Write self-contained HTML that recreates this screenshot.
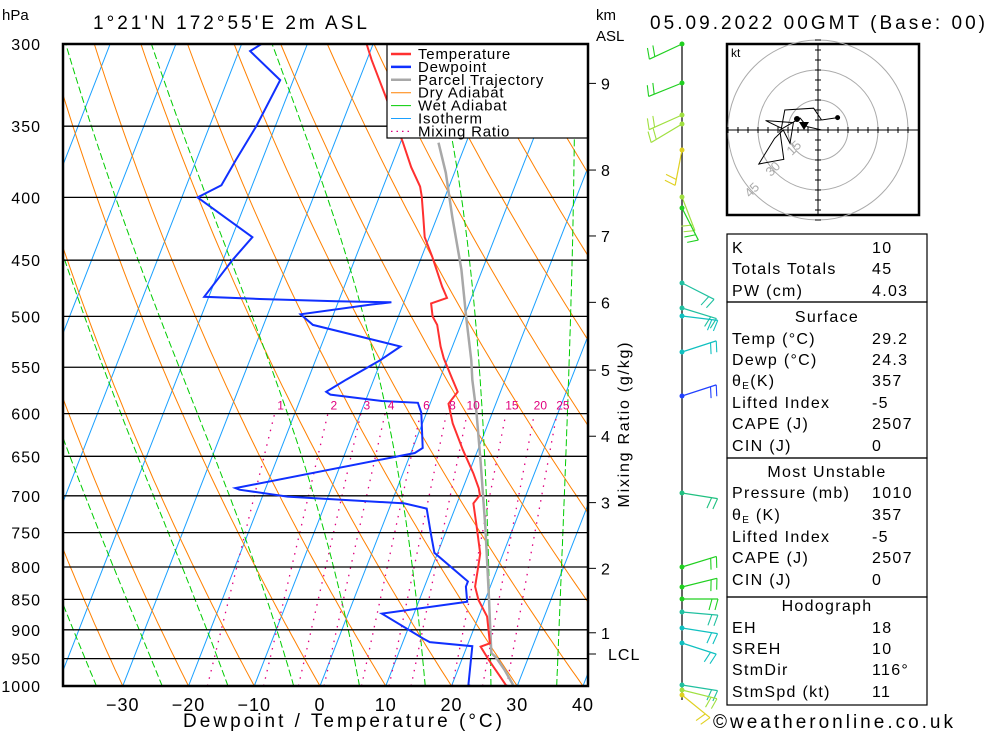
<!DOCTYPE html>
<html><head><meta charset="utf-8"><style>
html,body{margin:0;padding:0;background:#fff}
svg{display:block;font-family:"Liberation Sans",sans-serif}
</style></head><body>
<svg id="chart" width="1000" height="733" viewBox="0 0 1000 733">
<defs><clipPath id="plotclip"><rect x="63" y="44" width="525" height="642"/></clipPath></defs>
<g id="bg" clip-path="url(#plotclip)"></g>
<g id="grid"></g>
<g id="series" clip-path="url(#plotclip)"></g>
<g id="legend">
 <rect x="387" y="44" width="201" height="94" fill="#fff" stroke="#000" stroke-width="1.2"/>
</g>
<rect x="63" y="44" width="525" height="642" fill="none" stroke="#000" stroke-width="2.5"/>
<g id="axes" font-size="16"></g>
<text x="2" y="20" font-size="15">hPa</text>
<text x="93" y="29" font-size="19" textLength="274" lengthAdjust="spacing">1°21'N 172°55'E 2m ASL</text>
<text x="596" y="20" font-size="15">km</text>
<text x="596" y="41" font-size="15">ASL</text>
<text x="650" y="29" font-size="19" textLength="335" lengthAdjust="spacing">05.09.2022 00GMT (Base: 00)</text>
<text x="183" y="727" font-size="19" textLength="319" lengthAdjust="spacing">Dewpoint / Temperature (°C)</text>
<text x="629" y="425" font-size="16" text-anchor="middle" textLength="165" lengthAdjust="spacing" transform="rotate(-90 629 425)">Mixing Ratio (g/kg)</text>
<text x="713" y="728" font-size="19" textLength="240" lengthAdjust="spacing">©weatheronline.co.uk</text>
<g id="wind"></g>
<g id="hodo"></g>
<g id="table" font-size="16"></g>
</svg>
<script>
const tempP=[300,309,331,361,378,392,399,415,431,447,473,483,488,500,508,529,541,563,576,589,611,642,671,690,699,710,742,780,800,830,851,878,923,929,952,983,1004];
const tempT=[-31.0,-29.3,-25.0,-19.6,-16.9,-14.4,-13.6,-12.1,-10.7,-8.4,-5.1,-3.7,-5.8,-4.8,-3.6,-1.8,-0.6,2.0,3.5,2.8,4.6,7.7,10.7,12.4,13.0,12.5,14.4,16.5,17.0,17.7,19.0,21.3,23.3,22.1,24.1,26.9,28.7];
const dewP=[300,304,321,350,373,391,400,431,450,482,484,486,487,489,498,508,529,543,563,576,579,586,588,599,640,646,690,692,701,710,717,751,779,820,822,830,854,873,915,921,928,998,1006,1006];
const dewT=[-47.0,-48.3,-42.0,-42.9,-44.0,-44.7,-47.6,-36.9,-38.6,-40.7,-32.1,-20.4,-11.9,-14.8,-25.0,-22.5,-7.9,-10.2,-14.2,-16.5,-15.7,-7.5,-1.9,-0.8,1.5,0.6,-24.6,-23.9,-16.2,2.0,5.7,7.8,9.5,16.0,16.3,16.3,17.4,5.1,12.9,14.1,20.8,22.5,24.0,25.3];
const parcelP=[361,382,415,458,500,543,563,599,658,746,846,940,948,970,998];
const parcelT=[-14.2,-11.3,-7.7,-3.2,0.3,3.7,5.0,7.6,11.2,15.9,20.4,24.1,25.1,27.1,29.3];
const pressureTicks=[300,350,400,450,500,550,600,650,700,750,800,850,900,950,1000];
const tempTicks=[-30,-20,-10,0,10,20,30,40];
const mixRatios=[1,2,3,4,6,8,10,15,20,25];
const kmLabels=["9","8","7","6","5","4","3","2","1"];
const kmPressures=[323,380,430,487,553,626,709,802,905];
const hodoU=[9.8,1.8,-2.2,-16.6,-18.3,-26.2,-12.3,-14,-17.4,-21.7,-29.6,-17.1,-19.1,-8.9,-5.5,1.8];
const hodoV=[6.2,5,10.9,10,0.9,4.7,3.7,-6.7,0,-4.2,-17,-14.7,0,5.9,1.7,0];
const windY=[44,83,115,124,150,197,208,283,308,316,352,396,493,567,587,599,612,628,643,685,690,695];
const windDir=[245,248,246,239,191,159,153,117,107,97,72,72,99,73,76,90,95,99,108,99,104,129];
const windCol=["#20d020","#20d020","#a0e040","#a0e040","#e0d020","#a0e040","#20d020","#20c0a0","#20c0a0","#10c0c0","#10c0c0","#2040ff","#20c080","#20d020","#20d020","#20d020","#20c0a0","#10c0c0","#10c0c0","#20c0a0","#a0e040","#e0d020"];
const NS="http://www.w3.org/2000/svg";
function yP(p){return 44+642*Math.log(p/300)/Math.log(1000/300);}
function xT(T,p){return 320+6.575*T+0.39*(686-yP(p));}
function mk(tag,attrs,parent){const e=document.createElementNS(NS,tag);for(const k in attrs)e.setAttribute(k,attrs[k]);parent.appendChild(e);return e;}
function pathFrom(ps,ts){let d="";for(let i=0;i<ps.length;i++){d+=(i?"L":"M")+xT(ts[i],ps[i]).toFixed(1)+","+yP(ps[i]).toFixed(1);}return d;}
const bg=document.getElementById('bg');
for(let T=-120;T<=40;T+=10){
 const l=mk('line',{x1:xT(T,1000),y1:yP(1000),x2:xT(T,300),y2:yP(300),stroke:'#1aa0ff','stroke-width':1},bg);
 
 
}
for(let t0=-60;t0<=260;t0+=10){
 const th=t0+273.15;let d="";
 for(let p=1000;p>=300;p-=10){const T=th*Math.pow(p/1000,0.2857)-273.15;d+=(p==1000?"M":"L")+xT(T,p).toFixed(1)+","+yP(p).toFixed(1);}
 const e=mk('path',{d:d,fill:'none',stroke:'#ff8000','stroke-width':1},bg);
 
 
}
function es(T){return 6.112*Math.exp(17.67*T/(T+243.5));}
for(let t0=-44;t0<=46;t0+=10){
 let T=t0+273.15;let d="M"+xT(t0,1000).toFixed(1)+","+yP(1000).toFixed(1);
 for(let p=1000;p>300;p-=5){
  const e=es(T-273.15),rs=0.622*e/(p-e);
  const num=(287*T+2.5e6*rs),den=(1005+2.5e6*2.5e6*rs*0.622/(287*T*T));
  T-= (num/den)/p*5; const pn=p-5;
  d+="L"+xT(T-273.15,pn).toFixed(1)+","+yP(pn).toFixed(1);
 }
 const e=mk('path',{d:d,fill:'none',stroke:'#00cc00','stroke-width':1,'stroke-dasharray':'7,3'},bg);
 
 
}
function tdW(w,p){const e=w*p/(622+w);const L=Math.log(e/6.112);return 243.5*L/(17.67-L);}
mixRatios.forEach(w=>{
 const e=mk('line',{x1:xT(tdW(w,1000),1000),y1:yP(1000),x2:xT(tdW(w,600),600),y2:yP(600),stroke:'#e0007f','stroke-width':1.3,'stroke-dasharray':'1.5,6'},bg);
 
 
 const t=mk('text',{x:xT(tdW(w,600),600)+6,y:yP(600)-4,'font-size':12,fill:'#e0007f','text-anchor':'middle'},document.getElementById('chart'));
 t.textContent=w;
 
 
});
const grid=document.getElementById('grid'),axes=document.getElementById('axes');
pressureTicks.forEach(p=>{
 const l=mk('line',{x1:63,x2:588,y1:yP(p),y2:yP(p),stroke:'#000','stroke-width':1.3},grid);
 
 
 const t=mk('text',{x:41,y:yP(p)+6,'text-anchor':'end','letter-spacing':'1'},axes);
 t.textContent=p;
 
 
});
tempTicks.forEach(T=>{
 const t=mk('text',{x:xT(T,1000),y:711,'text-anchor':'middle','font-size':18,'letter-spacing':'1'},axes);
 t.textContent=(T<0?"−":"")+Math.abs(T);
 
 
});
kmPressures.forEach((p,i)=>{
 mk('line',{x1:588,x2:596,y1:yP(p),y2:yP(p),stroke:'#000'},axes);
 const t=mk('text',{x:601,y:yP(p)+6},axes);
 t.textContent=kmLabels[i];
 
 
});
mk('line',{x1:588,x2:596,y1:654,y2:654,stroke:'#000'},axes);
const lcl=mk('text',{x:608,y:660,'letter-spacing':'1'},axes);lcl.textContent="LCL";


const ser=document.getElementById('series');
const s1=mk('path',{d:pathFrom(parcelP,parcelT),fill:'none',stroke:'#a8a8a8','stroke-width':2.5},ser);


const s2=mk('path',{d:pathFrom(dewP,dewT),fill:'none',stroke:'#1030ff','stroke-width':2},ser);


const s3=mk('path',{d:pathFrom(tempP,tempT),fill:'none',stroke:'#ff3030','stroke-width':2},ser);


const lg=document.getElementById('legend');
const legItems=[["Temperature","#ff3030",2.5,""],["Dewpoint","#1030ff",2.5,""],["Parcel Trajectory","#a8a8a8",2.5,""],["Dry Adiabat","#ff8000",1,""],["Wet Adiabat","#00cc00",1,""],["Isotherm","#1aa0ff",1,""],["Mixing Ratio","#e0007f",1.3,"1.5,4"]];
legItems.forEach((it,i)=>{
 const y=54+i*12.9;
 mk('line',{x1:391,x2:411,y1:y,y2:y,stroke:it[1],'stroke-width':it[2],'stroke-dasharray':it[3]||'none'},lg);
 const t=mk('text',{x:418,y:y+5,'font-size':15,'letter-spacing':'0.8'},lg);t.textContent=it[0];
 
 
});
const wg=document.getElementById('wind');
mk('line',{x1:682,x2:682,y1:44,y2:700,stroke:'#000','stroke-width':1.2},wg);
windY.forEach((y,i)=>{
 const a=windDir[i]*Math.PI/180,L=36;
 const ex=682+Math.sin(a)*L,ey=y-Math.cos(a)*L;
 const c=windCol[i];
 const sh=mk('line',{x1:682,y1:y,x2:ex,y2:ey,stroke:c,'stroke-width':1.2},wg);
 
 
 const px=Math.cos(a),py=Math.sin(a);
 for(let k=0;k<2;k++){const bx=ex-Math.sin(a)*k*6,by=ey+Math.cos(a)*k*6;
  mk('line',{x1:bx,y1:by,x2:bx+px*11-Math.sin(a)*3,y2:by+py*11+Math.cos(a)*3,stroke:c,'stroke-width':1.1},wg);}
 mk('circle',{cx:682,cy:y,r:2.5,fill:c},wg);
});
const hg=document.getElementById('hodo');const cx=818,cy=130,sc=2;
mk('rect',{x:727,y:44,width:192,height:171,fill:'#fff',stroke:'#000','stroke-width':2.5},hg);
[15,30,45].forEach(r=>{mk('circle',{cx:cx,cy:cy,r:r*sc,fill:'none',stroke:'#aaa','stroke-width':1},hg);
 const t=mk('text',{x:cx-r*sc*0.7,y:cy+r*sc*0.7,'font-size':13,fill:'#aaa','text-anchor':'middle',transform:`rotate(-45 ${cx-r*sc*0.7} ${cy+r*sc*0.7})`},hg);t.textContent=r;
 
 });
mk('line',{x1:727,x2:919,y1:cy,y2:cy,stroke:'#000'},hg);
mk('line',{x1:cx,x2:cx,y1:44,y2:215,stroke:'#000'},hg);
for(let k=-45;k<=45;k+=5){if(!k)continue;mk('line',{x1:cx+k*sc,x2:cx+k*sc,y1:cy-3,y2:cy+3,stroke:'#000'},hg);mk('line',{x1:cx-3,x2:cx+3,y1:cy+k*sc,y2:cy+k*sc,stroke:'#000'},hg);}
const kt=mk('text',{x:731,y:57,'font-size':12},hg);kt.textContent="kt";
let hd="";hodoU.forEach((u,i)=>{hd+=(i?"L":"M")+(cx+u*sc)+","+(cy-hodoV[i]*sc);});
const hp=mk('path',{d:hd,fill:'none',stroke:'#000','stroke-width':1},hg);


mk('circle',{cx:cx+hodoU[0]*sc,cy:cy-hodoV[0]*sc,r:2.5,fill:'#000'},hg);
mk('circle',{cx:797,cy:119,r:3,fill:'#000'},hg);
mk('path',{d:"M799,122 L809,122 L804,130 Z",fill:'#000'},hg);
const tb=document.getElementById('table');
[[234,302],[302,458],[458,597],[597,705]].forEach(b=>mk('rect',{x:727,y:b[0],width:200,height:b[1]-b[0],fill:'none',stroke:'#000','stroke-width':1.2},tb));
const rows=[["K","10",247],["Totals Totals","45",268],["PW (cm)","4.03",290],["Temp (°C)","29.2",338],["Dewp (°C)","24.3",359],["θE(K)","357",380],["Lifted Index","-5",402],["CAPE (J)","2507",423],["CIN (J)","0",445],["Pressure (mb)","1010",492],["θE (K)","357",514],["Lifted Index","-5",536],["CAPE (J)","2507",557],["CIN (J)","0",579],["EH","18",627],["SREH","10",648],["StmDir","116°",669],["StmSpd (kt)","11",691]];
rows.forEach(r=>{
 const t=mk('text',{x:732,y:r[2]+6,'letter-spacing':'1.3'},tb);
 if(r[0].startsWith("θE")){t.innerHTML='θ<tspan font-size="10" dy="3">E</tspan><tspan dy="-3">'+r[0].slice(2)+'</tspan>';}else t.textContent=r[0];
 
 
 const v=mk('text',{x:872,y:r[2]+6,'letter-spacing':'1.3'},tb);v.textContent=r[1];
 
 
});
[["Surface",316],["Most Unstable",471],["Hodograph",605]].forEach(h=>{
 const t=mk('text',{x:827,y:h[1]+6,'text-anchor':'middle','letter-spacing':'1.3'},tb);t.textContent=h[0];
 
 
});
</script>
</body></html>
